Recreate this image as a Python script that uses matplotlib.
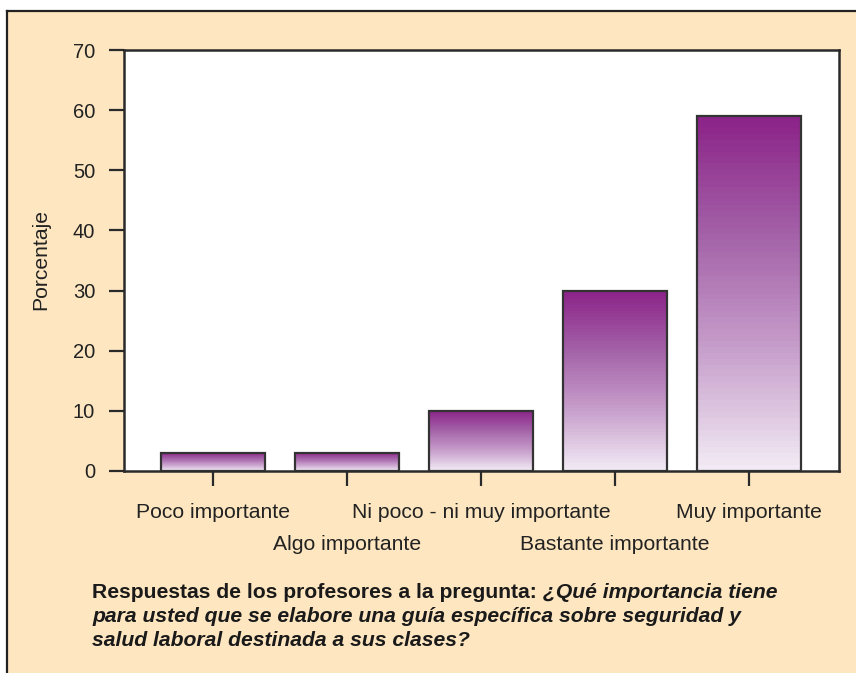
import matplotlib
matplotlib.use("Agg")
import matplotlib.pyplot as plt
import numpy as np
from matplotlib.colors import LinearSegmentedColormap
from matplotlib.patches import Rectangle
from matplotlib.lines import Line2D
from matplotlib import font_manager

categories = ["Poco importante", "Algo importante", "Ni poco - ni muy importante",
              "Bastante importante", "Muy importante"]
values = [3, 3, 10, 30, 59]
yticks = [0, 10, 20, 30, 40, 50, 60, 70]
ylabel = "Porcentaje"
caption_bold = "Respuestas de los profesores a la pregunta: "
caption_it1 = "¿Qué importancia tiene"
caption_it2 = "para usted que se elabore una guía específica sobre seguridad y"
caption_it3 = "salud laboral destinada a sus clases?"

names = {f.name for f in font_manager.fontManager.ttflist}
base_font = "Liberation Sans" if "Liberation Sans" in names else "DejaVu Sans"
narrow_font = "Liberation Sans Narrow" if "Liberation Sans Narrow" in names else base_font
plt.rcParams['font.family'] = [base_font, 'DejaVu Sans']

W, H = 856, 673
fig = plt.figure(figsize=(W / 100, H / 100), dpi=100)
fig.patch.set_facecolor("white")

panel_col = "#FDE6C0"
fig.add_artist(Rectangle((7 / W, 0), 1, 1 - 11 / H, transform=fig.transFigure,
                         facecolor=panel_col, edgecolor="none", zorder=0))
fig.add_artist(Line2D([7 / W, 1], [1 - 11 / H, 1 - 11 / H], transform=fig.transFigure,
                      color="#222222", lw=1.6, zorder=1))
fig.add_artist(Line2D([7 / W, 7 / W], [0, 1 - 11 / H], transform=fig.transFigure,
                      color="#222222", lw=1.6, zorder=1))

ax = fig.add_axes([124 / W, (H - 471) / H, (839 - 124) / W, (471 - 50) / H])
ax.set_facecolor("white")
for s in ax.spines.values():
    s.set_color("#2a2a2a")
    s.set_linewidth(1.8)

x = np.arange(len(categories))
bw = 0.776
cmap = LinearSegmentedColormap.from_list("pg", ["#F2EAF4", "#C8A0CC", "#A462A8", "#8C2489"])
grad = np.linspace(0, 1, 60).reshape(-1, 1)
bars = ax.bar(x, values, width=bw, facecolor="none", edgecolor="#333333", linewidth=1.6, zorder=3)
for b in bars:
    bx, by = b.get_x(), b.get_y()
    bwid, bh = b.get_width(), b.get_height()
    im = ax.imshow(grad, cmap=cmap, aspect="auto", origin="lower",
                   extent=[bx, bx + bwid, by, by + bh], zorder=2, interpolation="nearest")
    im.set_clip_path(b)

ax.set_xlim(-0.664, 4.672)
ax.set_ylim(0, 70)
ax.set_yticks(yticks)
ax.set_yticklabels([str(t) for t in yticks], fontsize=14.5, color="#222222")
ax.set_xticks(x)
ax.set_xticklabels([])
ax.tick_params(axis="both", length=10.8, width=1.6, color="#2a2a2a", direction="out")
ax.tick_params(axis="y", pad=10)

for i, c in enumerate(categories):
    off = -42 if i % 2 == 0 else -74
    ax.annotate(c, xy=(x[i], 0), xycoords=("data", "axes fraction"),
                xytext=(0, off * 0.72), textcoords="offset points",
                ha="center", va="center", fontsize=15.2, color="#222222")

fig.text(41 / W, 1 - 260 / H, ylabel, rotation=90, ha="center", va="center",
         fontsize=15.2, color="#222222")

cap_fs = 15.2
cap_kw = dict(fontsize=cap_fs, color="#1a1a1a", family=[narrow_font, base_font],
              fontweight="bold", va="baseline", ha="left")
x0 = 92 / W
t1 = fig.text(x0, 1 - 598 / H, caption_bold, **cap_kw)
fig.canvas.draw()
r = fig.canvas.get_renderer()
bb = t1.get_window_extent(renderer=r)
fig.text(bb.x1 / W, 1 - 598 / H, caption_it1, style="italic", **cap_kw)
fig.text(x0, 1 - 622 / H, caption_it2, style="italic", **cap_kw)
fig.text(x0, 1 - 646 / H, caption_it3, style="italic", **cap_kw)

fig.savefig("out.png", dpi=100, facecolor=fig.get_facecolor())
